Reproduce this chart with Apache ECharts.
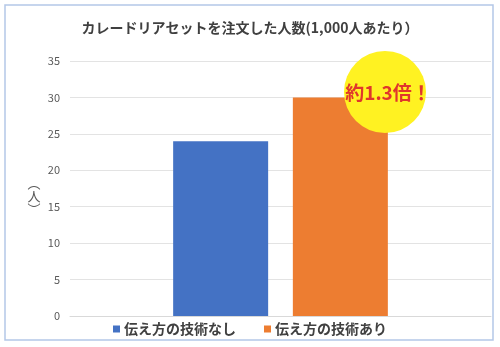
<!DOCTYPE html>
<html><head><meta charset="utf-8">
<script src="https://cdn.jsdelivr.net/npm/echarts@6/dist/echarts.min.js"></script>
<style>html,body{margin:0;padding:0;background:#fff}#c{width:500px;height:347px}</style>
</head><body><div id="c"></div>
<script>
const titleText = 'カレードリアセットを注文した人数(1,000人あたり）';
const categories = [''];
const seriesNames = ['伝え方の技術なし', '伝え方の技術あり'];
const valuesWithout = [24];
const valuesWith = [30];
const yTicks = { min: 0, max: 35, interval: 5 };
const yName = '︵\n人\n︶';
const callout = '約1.3倍！';

const font = '"Noto Sans CJK JP", "Noto Sans", sans-serif';
const chart = echarts.init(document.getElementById('c'), null, { renderer: 'canvas' });
chart.setOption({
  animation: false,
  textStyle: { fontFamily: font },
  title: {
    text: titleText, left: 'center', top: 16,
    textStyle: { fontSize: 14, fontWeight: 'bold', color: '#404040', fontFamily: font }
  },
  grid: { left: 70, right: 9, top: 61, bottom: 31, containLabel: false },
  legend: {
    data: seriesNames, left: 108, top: 317, icon: 'rect', itemWidth: 7, itemHeight: 7,
    itemGap: 28,
    textStyle: { fontSize: 14, fontWeight: 'bold', color: '#404040', fontFamily: font, padding: [0, 0, 0, -1] }
  },
  xAxis: {
    type: 'category', data: categories,
    axisLine: { lineStyle: { color: '#d9d9d9', width: 1 } },
    axisTick: { show: false }, axisLabel: { show: false }
  },
  yAxis: {
    type: 'value', min: yTicks.min, max: yTicks.max, interval: yTicks.interval,
    axisLine: { show: false }, axisTick: { show: false },
    axisLabel: { color: '#595959', fontSize: 11, margin: 10, fontFamily: font },
    splitLine: { lineStyle: { color: '#e3e3e3', width: 1 } }
  },
  series: [
    { name: seriesNames[0], type: 'bar', data: valuesWithout, barWidth: 95, barGap: '26%', itemStyle: { color: '#4472c4' } },
    { name: seriesNames[1], type: 'bar', data: valuesWith, barWidth: 95, itemStyle: { color: '#ed7d31' } }
  ],
  graphic: [
    { type: 'rect', shape: { x: 5, y: 5, width: 488, height: 335 }, style: { fill: 'none', stroke: '#b4c7e7', lineWidth: 1.5 }, z: 0 },
    { type: 'text', x: 34, y: 196, style: { text: yName, fill: '#595959', font: '13px ' + font, lineHeight: 13, align: 'center', verticalAlign: 'middle' }, z: 10 },
    { type: 'circle', shape: { cx: 385, cy: 92, r: 41 }, style: { fill: '#fff222' }, z: 10 },
    { type: 'text', x: 388, y: 93, style: { text: callout, fill: '#e0362c', font: 'bold 19px ' + font, align: 'center', verticalAlign: 'middle' }, z: 11 }
  ]
});
</script></body></html>
